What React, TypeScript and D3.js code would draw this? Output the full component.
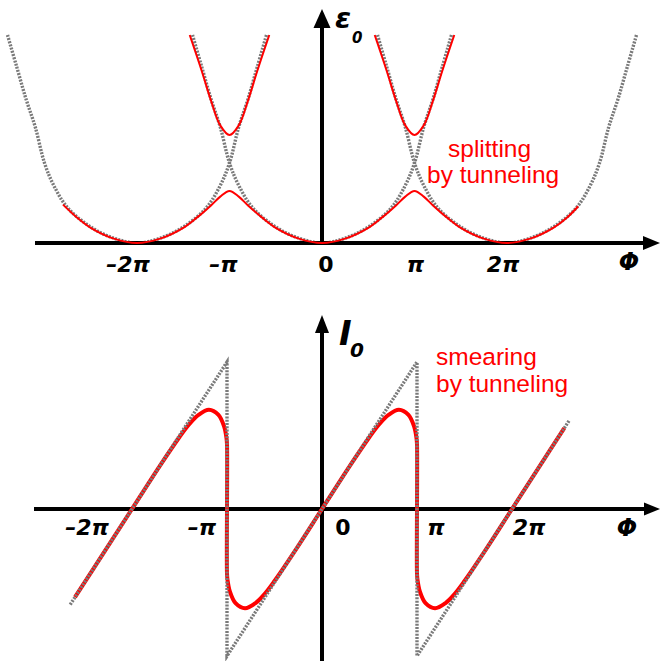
import React from "react";
import * as d3 from "d3";

const W = 660;
const H = 661;

// Flux Φ is measured in units of π throughout.
const tickValues = [-2, -1, 0, 1, 2];
const tickLabels = ["–2π", "–π", "0", "π", "2π"];

// Uncoupled energy parabola: offset from its minimum and energy
const parabolaOffsets = [-1.4, -1.3, -1.2, -1.1, -1.0, -0.9, -0.75, -0.5, -0.25, 0, 0.25, 0.5, 0.75, 0.9, 1.0, 1.1, 1.2, 1.3, 1.4];
const parabolaEnergy = [2.6, 2.2, 1.8, 1.45, 1.0, 0.72, 0.44, 0.2, 0.06, 0, 0.06, 0.2, 0.44, 0.72, 1.0, 1.45, 1.8, 2.2, 2.6];
const parabolaCenters = [-2, 0, 2];

// Lower band after tunnel splitting
const lowerBandPhi = [-2.8, -2.65, -2.5, -2.25, -2, -1.75, -1.5, -1.35, -1.2, -1.1, -1, -0.9, -0.8, -0.65, -0.5, -0.25, 0, 0.25, 0.5, 0.65, 0.8, 0.9, 1, 1.1, 1.2, 1.35, 1.5, 1.75, 2, 2.25, 2.5, 2.65, 2.77];
const lowerBandE = [0.48, 0.32, 0.19, 0.055, 0, 0.055, 0.19, 0.32, 0.47, 0.58, 0.65, 0.58, 0.47, 0.32, 0.19, 0.055, 0, 0.055, 0.19, 0.32, 0.47, 0.58, 0.65, 0.58, 0.47, 0.32, 0.19, 0.055, 0, 0.055, 0.19, 0.32, 0.46];

// Upper band near the degeneracy points Φ = ±π
const upperBandCenters = [-1, 1];
const upperBandOffsets = [-0.43, -0.3, -0.2, -0.1, 0, 0.1, 0.2, 0.3, 0.43];
const upperBandE = [2.6, 2.15, 1.78, 1.47, 1.35, 1.47, 1.78, 2.15, 2.6];

// Persistent current without tunneling (sawtooth)
const sawPhi = [-2.65, -1, -1, 1, 1, 2.6];
const sawI = [-0.65, 1, -1, 1, -1, 0.6];

// Persistent current smeared by tunneling
const currentPhi = [-2.6, -2.3, -2, -1.7, -1.5, -1.4, -1.3, -1.19, -1.09, -1.03, -1.005, -1, -1, -0.995, -0.97, -0.91, -0.81, -0.7, -0.6, -0.5, -0.3, 0, 0.3, 0.5, 0.6, 0.7, 0.81, 0.91, 0.97, 0.995, 1, 1, 1.005, 1.03, 1.09, 1.19, 1.3, 1.4, 1.5, 1.7, 2, 2.3, 2.55];
const currentI = [-0.6, -0.3, 0, 0.3, 0.49, 0.575, 0.64, 0.675, 0.64, 0.56, 0.48, 0.44, -0.44, -0.48, -0.56, -0.64, -0.675, -0.64, -0.575, -0.49, -0.3, 0, 0.3, 0.49, 0.575, 0.64, 0.675, 0.64, 0.56, 0.48, 0.44, -0.44, -0.48, -0.56, -0.64, -0.675, -0.64, -0.575, -0.49, -0.3, 0, 0.3, 0.55];

const labelNudgeTop = [-9, -6, 4, 1, -4];
const labelNudgeBottom = [-45, -25, 21, 19, 17];

const GRAY = "#7a7a7a";
const RED = "#ff0000";
const tickFont = "'DejaVu Sans', sans-serif";
const noteFont = "'Liberation Sans', Arial, sans-serif";

type Pt = [number, number];

function Arrow({ x1, y1, x2, y2, len = 18, half = 7.5 }: { x1: number; y1: number; x2: number; y2: number; len?: number; half?: number }) {
  const dx = x2 - x1;
  const dy = y2 - y1;
  const L = Math.hypot(dx, dy);
  const ux = dx / L;
  const uy = dy / L;
  const bx = x2 - ux * len;
  const by = y2 - uy * len;
  const pts = [
    [x2, y2],
    [bx - uy * half, by + ux * half],
    [bx + uy * half, by - ux * half],
  ];
  return (
    <g>
      <line x1={x1} y1={y1} x2={bx + ux * 2} y2={by + uy * 2} stroke="#000" strokeWidth={4} />
      <polygon points={pts.map((p) => p.join(",")).join(" ")} fill="#000" />
    </g>
  );
}

export default function App() {
  // Upper panel scales
  const xTop = d3.scaleLinear().domain([0, 1]).range([322, 414.5]);
  const yTop = d3.scaleLinear().domain([0, 1]).range([243, 163]);
  // Lower panel scales
  const xBot = d3.scaleLinear().domain([0, 1]).range([322, 417]);
  const yBot = d3.scaleLinear().domain([0, 1]).range([509, 362]);

  const lineTop = d3
    .line<Pt>()
    .x((d) => xTop(d[0]))
    .y((d) => yTop(d[1]))
    .curve(d3.curveCatmullRom.alpha(0.5));
  const lineBot = d3
    .line<Pt>()
    .x((d) => xBot(d[0]))
    .y((d) => yBot(d[1]))
    .curve(d3.curveCatmullRom.alpha(0.5));
  const lineBotLinear = d3
    .line<Pt>()
    .x((d) => xBot(d[0]))
    .y((d) => yBot(d[1]));

  const parabolas = parabolaCenters.map((c) =>
    parabolaOffsets.map((o, i) => [c + o, parabolaEnergy[i]] as Pt)
  );
  const lowerBand = lowerBandPhi.map((p, i) => [p, lowerBandE[i]] as Pt);
  const upperBands = upperBandCenters.map((c) =>
    upperBandOffsets.map((o, i) => [c + o, upperBandE[i]] as Pt)
  );
  const saw = sawPhi.map((p, i) => [p, sawI[i]] as Pt);
  const current = currentPhi.map((p, i) => [p, currentI[i]] as Pt);

  const dotted = { stroke: GRAY, strokeWidth: 3.4, strokeDasharray: "2 1.3", fill: "none" };

  return (
    <svg
      width={W}
      height={H}
      viewBox={`0 0 ${W} ${H}`}
      style={{ position: "absolute", left: 0, top: 0, background: "#fff" }}
    >
      <rect width={W} height={H} fill="#fff" />

      {/* ---------- energy spectrum ---------- */}
      {parabolas.map((p, i) => (
        <path key={`par${i}`} d={lineTop(p) ?? ""} {...dotted} />
      ))}
      <Arrow x1={35} y1={yTop(0)} x2={660} y2={yTop(0)} len={17} half={7} />
      <Arrow x1={xTop(0)} y1={yTop(0)} x2={xTop(0)} y2={9} len={19} half={8.5} />
      <path d={lineTop(lowerBand) ?? ""} stroke={RED} strokeWidth={2} fill="none" />
      {upperBands.map((p, i) => (
        <path key={`up${i}`} d={lineTop(p) ?? ""} stroke={RED} strokeWidth={2} fill="none" />
      ))}
      {tickValues.map((v, i) => (
        <text
          key={`tt${i}`}
          x={xTop(v) + labelNudgeTop[i]}
          y={272}
          textAnchor="middle"
          fontFamily={tickFont}
          fontWeight="bold"
          fontStyle={v === 0 ? "normal" : "italic"}
          fontSize={22}
        >
          {tickLabels[i]}
        </text>
      ))}
      <text x={629} y={270} textAnchor="middle" fontFamily={tickFont} fontWeight="bold" fontStyle="italic" fontSize={24}>
        Φ
      </text>
      <text x={335} y={28} fontFamily={tickFont} fontWeight="bold" fontStyle="italic" fontSize={29}>
        ε
      </text>
      <text x={352} y={43} fontFamily={tickFont} fontWeight="bold" fontStyle="italic" fontSize={15}>
        0
      </text>
      <text fontFamily={noteFont} fontSize={24.5} fill={RED}>
        <tspan x={448} y={157}>splitting</tspan>
        <tspan x={427} y={183}>by tunneling</tspan>
      </text>

      {/* ---------- persistent current ---------- */}
      <Arrow x1={34} y1={yBot(0)} x2={660} y2={yBot(0)} len={16} half={6.5} />
      <Arrow x1={xBot(0)} y1={H} x2={xBot(0)} y2={315} len={18} half={7} />
      <path d={lineBot(current) ?? ""} stroke={RED} strokeWidth={4} fill="none" strokeLinejoin="round" />
      <path d={lineBotLinear(saw) ?? ""} {...dotted} />
      {tickValues.map((v, i) => (
        <text
          key={`tb${i}`}
          x={xBot(v) + labelNudgeBottom[i]}
          y={535}
          textAnchor="middle"
          fontFamily={tickFont}
          fontWeight="bold"
          fontStyle={v === 0 ? "normal" : "italic"}
          fontSize={22}
        >
          {tickLabels[i]}
        </text>
      ))}
      <text x={627} y={536} textAnchor="middle" fontFamily={tickFont} fontWeight="bold" fontStyle="italic" fontSize={24}>
        Φ
      </text>
      <text x={339} y={345} fontFamily={tickFont} fontWeight="bold" fontStyle="italic" fontSize={34}>
        I
      </text>
      <text x={350} y={357} fontFamily={tickFont} fontWeight="bold" fontStyle="italic" fontSize={20}>
        0
      </text>
      <text fontFamily={noteFont} fontSize={24.5} fill={RED}>
        <tspan x={436} y={365}>smearing</tspan>
        <tspan x={436} y={392}>by tunneling</tspan>
      </text>
    </svg>
  );
}
